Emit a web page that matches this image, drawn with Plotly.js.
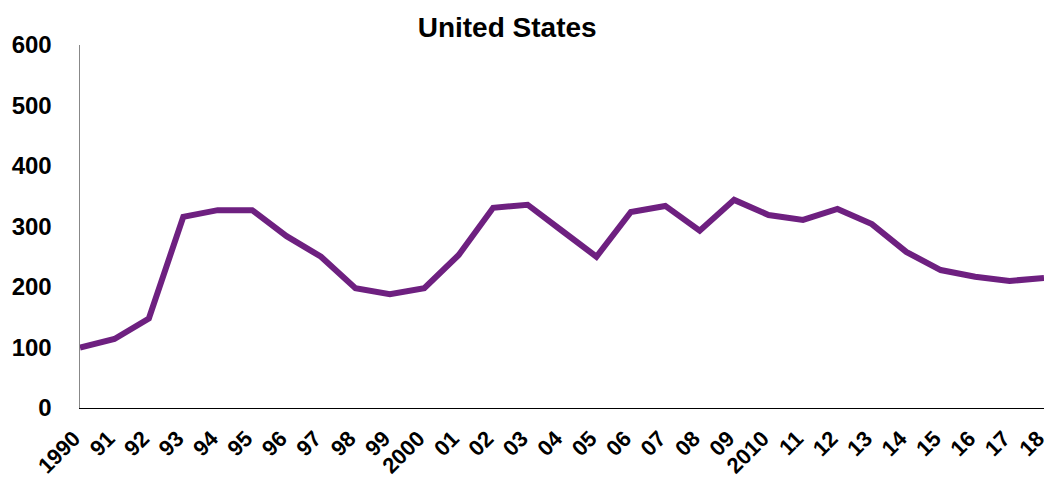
<!DOCTYPE html>
<html>
<head>
<meta charset="utf-8">
<script src="https://cdn.plot.ly/plotly-3.0.1.min.js"></script>
<style>html,body{margin:0;padding:0;background:#fff;}#chart{width:1050px;height:480px;}</style>
</head>
<body>
<div id="chart"></div>
<script>
const yearLabels = ["1990","91","92","93","94","95","96","97","98","99","2000","01","02","03","04","05","06","07","08","09","2010","11","12","13","14","15","16","17","18"];
const values = [100,114,148,316,327,327,284,250,198,188,198,253,331,336,293,250,324,334,293,344,319,311,329,304,258,228,217,210,215];
const yTicks = [0,100,200,300,400,500,600];

const xIdx = yearLabels.map((_, i) => i);

Plotly.newPlot('chart', [{
  x: xIdx,
  y: values,
  type: 'scatter',
  mode: 'lines',
  line: {color: '#6E2080', width: 6},
  cliponaxis: false,
  hoverinfo: 'skip'
}], {
  width: 1050, height: 480,
  margin: {l: 80, r: 6, t: 45, b: 72},
  paper_bgcolor: '#fff', plot_bgcolor: '#fff',
  showlegend: false,
  title: {text: '<b>United States</b>', x: 0.483, xanchor: 'center', y: 0.944, yanchor: 'middle',
          font: {family: 'Liberation Sans, Arial, sans-serif', size: 28, color: '#000'}},
  xaxis: {
    range: [0, 28], tickmode: 'array', tickvals: xIdx, ticktext: yearLabels,
    tickangle: -45, showgrid: false, zeroline: false,
    showline: true, linecolor: '#000', linewidth: 1, ticks: '',
    ticklabeloverflow: 'allow', ticklabelstandoff: 8, ticklabelshift: -6,
    tickfont: {family: 'Liberation Sans, Arial, sans-serif', size: 22, color: '#000', weight: 'bold'}
  },
  yaxis: {
    range: [0, 600], tickmode: 'array', tickvals: yTicks, ticktext: yTicks.map(String),
    showgrid: false, zeroline: false, showline: true, linecolor: '#888', linewidth: 1.5, ticks: '',
    ticklabelstandoff: 22,
    tickfont: {family: 'Liberation Sans, Arial, sans-serif', size: 24, color: '#000', weight: 'bold'}
  }
}, {staticPlot: true});
</script>
</body>
</html>
